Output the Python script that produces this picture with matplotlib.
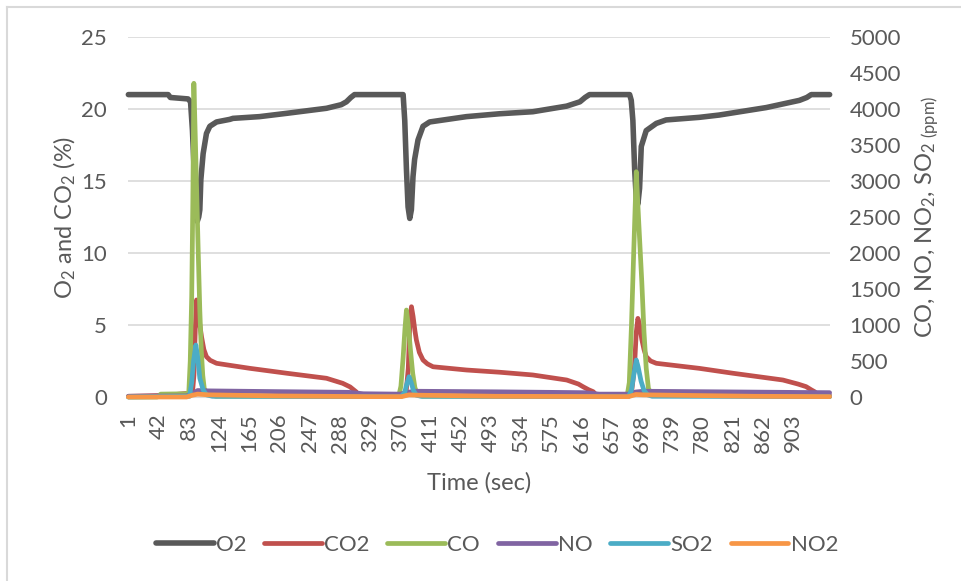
import matplotlib
matplotlib.use("Agg")
import matplotlib.pyplot as plt
from matplotlib.lines import Line2D

plt.rcParams['font.family'] = ['Lato', 'DejaVu Sans']
plt.rcParams['mathtext.default'] = 'regular'

TXT = '#595959'
GRID = '#D9D9D9'

# gas analyser trace, three burn cycles (time in s)
o2_t = [1, 55, 58, 82, 85.4, 88, 90.5, 92.5, 94.5, 96.5, 98, 99.4, 102.5, 107, 111.6, 120.7,
        138.7, 143, 179, 216, 270, 290, 297, 303, 308,
        374, 376.2, 378.5, 380.7, 383, 385.2, 387.4, 389.6, 394.2, 401, 410, 460, 505, 550,
        596, 614, 621, 627,
        681.5, 683.7, 685.9, 688.3, 690.5, 692.7, 695, 697.3, 704, 717.7, 731, 776, 803,
        867, 912, 922, 928, 953]
o2_v = [21.0, 21.0, 20.8, 20.7, 20.5, 18.5, 15.5, 13.0, 12.2, 12.5, 13.0, 15.1, 16.9, 18.3, 18.8, 19.1,
        19.28, 19.35, 19.47, 19.7, 20.05, 20.3, 20.5, 20.8, 21.0,
        21.0, 19.2, 15.8, 13.2, 12.4, 13.0, 15.3, 16.5, 17.85, 18.8, 19.1, 19.47, 19.67, 19.81,
        20.2, 20.5, 20.8, 21.0,
        21.0, 20.6, 19.2, 15.8, 13.8, 13.4, 14.5, 17.4, 18.5, 19.0, 19.24, 19.42, 19.58,
        20.1, 20.6, 20.8, 21.0, 21.0]

co2_t = [1, 40, 60, 80, 88, 90, 92, 93.5, 96, 98, 100.3, 103.5, 107, 112, 120.7, 138.7, 166,
         216, 270, 292, 302, 310, 314, 370,
         378, 381, 383, 385.3, 387.5, 390, 392, 396, 401, 407, 414.6, 460, 505, 550, 596,
         612, 618, 626, 632, 636, 676,
         684, 688, 690.5, 692.7, 695, 698, 701, 704, 710, 717.7, 776, 821.6, 889.5, 910,
         921, 928, 932.5, 937, 953]
co2_v = [0.05, 0.1, 0.15, 0.25, 0.3, 1.5, 5.0, 6.74, 5.8, 5.0, 4.19, 3.3, 2.8, 2.55, 2.34, 2.2, 1.99,
         1.65, 1.3, 0.95, 0.7, 0.37, 0.15, 0.1,
         0.3, 2.0, 5.0, 6.27, 5.6, 4.6, 3.96, 3.1, 2.57, 2.3, 2.1, 1.875, 1.72, 1.53, 1.18,
         0.9, 0.72, 0.5, 0.37, 0.15, 0.1,
         0.3, 2.0, 4.5, 5.46, 5.0, 4.0, 3.3, 2.8, 2.5, 2.34, 1.99, 1.65, 1.18, 0.9,
         0.72, 0.5, 0.37, 0.15, 0.1]

co_t = [1, 40, 45, 80, 83, 85, 87, 88.5, 89.9, 92, 94, 96, 98, 100, 102, 104, 108, 120,
        368, 371, 374, 376.5, 378.5, 381, 384, 387, 390, 393, 400,
        678, 681, 684, 687, 690.5, 694, 698, 701, 704, 707, 711, 953]
co_v = [0, 0, 40, 45, 60, 500, 1400, 2700, 4357, 3550, 2750, 1950, 1200, 650, 300, 120, 40, 10,
        10, 150, 550, 950, 1208, 1000, 650, 330, 130, 50, 10,
        10, 200, 1000, 2000, 3129, 2400, 1600, 900, 400, 120, 40, 5]

no_t = [1, 80, 88, 95, 110, 200, 300, 320, 370, 380, 390, 500, 620, 640, 680, 690, 700, 850, 953]
no_v = [10, 15, 45, 90, 85, 75, 65, 45, 40, 65, 80, 72, 60, 40, 40, 70, 80, 68, 60]

so2_t = [1, 84, 87, 89.5, 92.6, 95, 98, 102.5, 107, 115,
         371, 376, 379, 382, 385, 388, 392, 398,
         680, 684, 687, 690.5, 693, 697, 701, 706, 712, 953]
so2_v = [0, 10, 200, 500, 722, 560, 260, 100, 30, 10,
         5, 60, 180, 282, 200, 90, 25, 10,
         5, 100, 300, 514, 420, 220, 90, 30, 10, 5]

no2_t = [1, 80, 88, 95, 110, 200, 330, 372, 382, 395, 500, 680, 690, 700, 850, 953]
no2_v = [0, 0, 25, 40, 30, 15, 5, 5, 30, 25, 10, 5, 35, 30, 10, 5]

x_ticks = list(range(1, 944, 41))

fig = plt.figure(figsize=(9.61, 5.81), dpi=100)
ax = fig.add_axes([128 / 961, 1 - 397 / 581, 702 / 961, 360 / 581])
ax2 = ax.twinx()

# lines are not clipped so the zero-level traces show at full width
kw = dict(solid_capstyle='round', solid_joinstyle='round', clip_on=False)
l1, = ax.plot(o2_t, o2_v, color='#595959', lw=4.0, label='O2', **kw)
l2, = ax.plot(co2_t, co2_v, color='#C0504D', lw=3.4, label='CO2', **kw)
l3, = ax2.plot(co_t, co_v, color='#9BBB59', lw=3.4, label='CO', **kw)
l4, = ax2.plot(no_t, no_v, color='#8064A2', lw=3.4, label='NO', **kw)
l5, = ax2.plot(so2_t, so2_v, color='#4BACC6', lw=3.4, label='SO2', **kw)
l6, = ax2.plot(no2_t, no2_v, color='#F79646', lw=3.4, label='NO2', **kw)

ax.set_xlim(0.5, 953.5)
ax.set_ylim(0, 25)
ax2.set_ylim(0, 5000)
ax.set_yticks(range(0, 26, 5))
ax2.set_yticks(range(0, 5001, 500))
ax.set_xticks(x_ticks)
ax.set_xticklabels([str(t) for t in x_ticks], rotation=90)

ax.grid(axis='y', color=GRID, lw=1.2)
ax.set_axisbelow(True)
for a in (ax, ax2):
    for s in a.spines.values():
        s.set_visible(False)
ax.spines['bottom'].set_visible(True)
ax.spines['bottom'].set_color(GRID)

ax.tick_params(axis='y', length=0, pad=15, labelsize=16, labelcolor=TXT)
ax.tick_params(axis='x', length=0, pad=12, labelsize=16, labelcolor=TXT)
ax2.tick_params(axis='y', length=0, pad=14, labelsize=16, labelcolor=TXT)

mid_y = 1 - 217 / 581
fig.text(65 / 961, mid_y, 'O$_2$ and CO$_2$ (%)', rotation=90, ha='center', va='center',
         fontsize=17, color=TXT)
fig.text(927 / 961, mid_y, 'CO, NO, NO$_2$, SO$_{2\\ (ppm)}$', rotation=90, ha='center',
         va='center', fontsize=17, color=TXT)
fig.text(479 / 961, 1 - 483 / 581, 'Time (sec)', ha='center', va='center', fontsize=17, color=TXT)

leg = fig.legend(handles=[l1, l2, l3, l4, l5, l6], loc='center', ncol=6,
                 bbox_to_anchor=(497 / 961, 1 - 545 / 581), frameon=False, fontsize=16,
                 handlelength=2.6, handletextpad=0.1, columnspacing=0.8)
for t in leg.get_texts():
    t.set_color(TXT)

# chart area border
fig.add_artist(Line2D([7 / 961, 7 / 961], [0, 1 - 7 / 581], color=GRID, lw=1.5))
fig.add_artist(Line2D([7 / 961, 1], [1 - 7 / 581, 1 - 7 / 581], color=GRID, lw=1.5))

fig.savefig('out.png', dpi=100)
